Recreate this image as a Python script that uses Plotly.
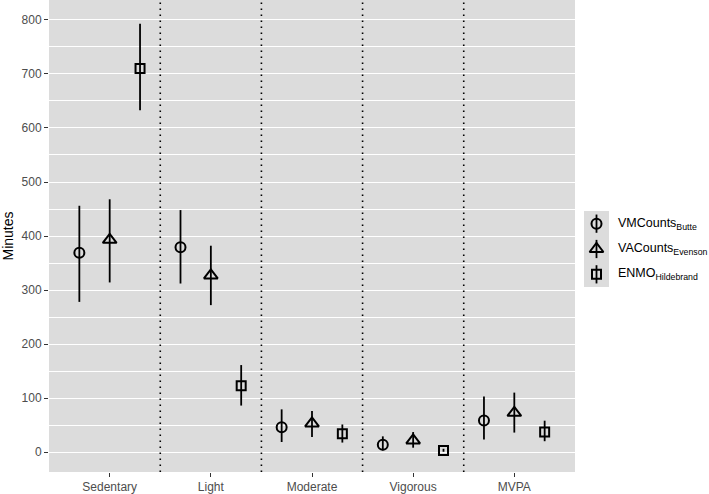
import plotly.graph_objects as go

categories = ["Sedentary", "Light", "Moderate", "Vigorous", "MVPA"]
series_names = ["VMCounts<sub>Butte</sub>", "VACounts<sub>Evenson</sub>", "ENMO<sub>Hildebrand</sub>"]

vm_mean = [369, 379, 46, 13.5, 58.5]
vm_low = [278, 312, 18.5, 3, 23]
vm_high = [456, 448, 79, 29, 103]

va_mean = [393, 327, 53, 21.5, 72.5]
va_low = [314, 272, 28, 8, 36]
va_high = [468, 382, 76, 37, 110]

en_mean = [710, 122.5, 34, 3, 37]
en_low = [633, 86, 17.5, 0.5, 20]
en_high = [793, 161, 51, 6, 58]

y_ticks = [0, 100, 200, 300, 400, 500, 600, 700, 800]

symbols = ["circle-open", "triangle-up-open", "square-open"]
sizes = [10, 12, 9]
offsets = [-0.3, 0.0, 0.3]
means = [vm_mean, va_mean, en_mean]
lows = [vm_low, va_low, en_low]
highs = [vm_high, va_high, en_high]

W, H = 709, 494
L, R, T, B = 49, 0, 0, 22
area_w = W - L - R
area_h = H - T - B
panel_right = 575

def dx(p):
    return (p - L) / area_w

def dy(p):
    return (H - B - p) / area_h

fig = go.Figure()
for k in range(3):
    xs = [i + offsets[k] for i in range(len(categories))]
    fig.add_trace(go.Scatter(
        x=xs, y=means[k], mode="markers", name=series_names[k], showlegend=False,
        marker=dict(symbol=symbols[k], size=sizes[k], color="black",
                    line=dict(width=2, color="black")),
        error_y=dict(type="data", symmetric=False,
                     array=[h - m for h, m in zip(highs[k], means[k])],
                     arrayminus=[m - l for m, l in zip(means[k], lows[k])],
                     width=0, thickness=1.8, color="black"),
        xaxis="x", yaxis="y",
    ))

# legend keys drawn in their own small axes
for k in range(3):
    fig.add_trace(go.Scatter(
        x=[0], y=[k], mode="markers", showlegend=False, hoverinfo="skip",
        marker=dict(symbol=symbols[k], size=sizes[k], color="black",
                    line=dict(width=2, color="black")),
        error_y=dict(type="data", array=[0.36], width=0, thickness=1.8, color="black"),
        xaxis="x2", yaxis="y2",
    ))

annotations = []
key_top, key_bot = 211, 287
row_h = (key_bot - key_top) / 3.0
for k in range(3):
    cy = key_top + row_h * (k + 0.5)
    annotations.append(dict(text=series_names[k], xref="paper", yref="paper",
                            x=dx(616), y=dy(cy), xanchor="left", yanchor="middle",
                            showarrow=False, font=dict(size=12.5, color="black")))

shapes = []
for i in range(len(categories) - 1):
    shapes.append(dict(type="line", xref="x", yref="y domain", x0=i + 0.5, x1=i + 0.5,
                       y0=0, y1=1, line=dict(color="black", width=1.6, dash="1.6px,4.4px"),
                       layer="above"))

fig.update_layout(
    width=W, height=H,
    margin=dict(l=L, r=R, t=T, b=B, autoexpand=False),
    paper_bgcolor="white", plot_bgcolor="#DCDCDC",
    font=dict(family="Liberation Sans, Arial, sans-serif", color="black"),
    shapes=shapes, annotations=annotations,
    showlegend=False,
    xaxis=dict(domain=[0, dx(panel_right)], range=[-0.6, len(categories) - 0.4],
               tickmode="array", tickvals=list(range(len(categories))), ticktext=categories,
               showgrid=False, zeroline=False, ticks="outside", ticklen=4,
               tickcolor="#333333", tickwidth=1,
               tickfont=dict(size=12, color="#4D4D4D"), showline=False),
    yaxis=dict(domain=[0, 1], range=[-37, 837], tickmode="array", tickvals=y_ticks,
               showgrid=True, gridcolor="white", gridwidth=1.3, zeroline=False,
               ticks="outside", ticklen=4, tickcolor="#333333", tickwidth=1,
               tickfont=dict(size=12, color="#4D4D4D"),
               title=dict(text="Minutes", font=dict(size=14, color="black"), standoff=6),
               minor=dict(tick0=50, dtick=100, showgrid=True, gridcolor="white",
                          gridwidth=0.6, ticks="")),
    xaxis2=dict(domain=[dx(584), dx(609)], range=[-0.5, 0.5], anchor="y2",
                showgrid=False, zeroline=False, showticklabels=False, ticks=""),
    yaxis2=dict(domain=[dy(key_bot), dy(key_top)], range=[2.5, -0.5], anchor="x2",
                showgrid=False, zeroline=False, showticklabels=False, ticks=""),
)

fig.write_html("out.html", config={"displayModeBar": False},
               post_script="document.body.style.margin='0';document.body.style.padding='0';")
